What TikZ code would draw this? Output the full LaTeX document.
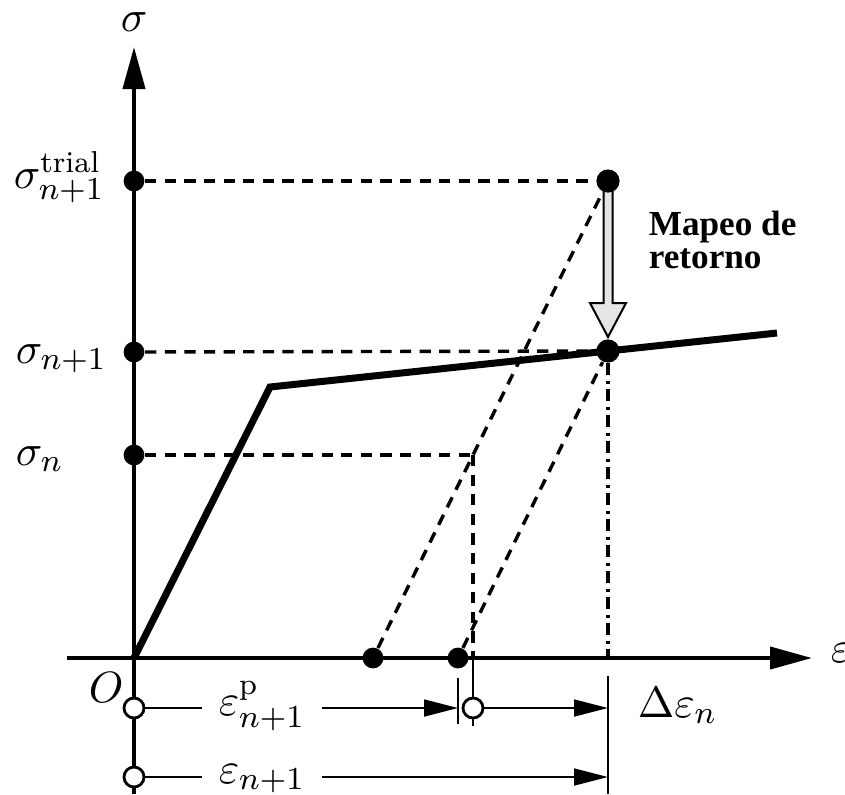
\documentclass[tikz,border=0pt]{standalone}
\usepackage{amsmath}
\usepackage{amssymb}
\usepackage{fontspec}
\newfontfamily\timesfont{Liberation Serif}
\usetikzlibrary{calc, positioning}
\usetikzlibrary{arrows.meta}

\begin{document}
\begin{tikzpicture}[x=0.25pt, y=-0.25pt,
  font=\fontsize{10.8}{12}\selectfont,
  dot/.style={circle, fill=black, inner sep=0pt, minimum size=5.2pt},
  bigdot/.style={dot, minimum size=5.8pt},
  opendot/.style={circle, draw=black, fill=white, line width=0.7pt, inner sep=0pt, minimum size=5pt},
  axisline/.style={line width=1pt, -{Triangle[length=10.5pt, width=5.5pt]}},
  guide/.style={line width=0.85pt, dash pattern=on 2.8pt off 2.1pt},
  dashdot/.style={line width=0.85pt, dash pattern=on 3pt off 1.4pt on 0.7pt off 1.4pt},
  dimarrow/.style={line width=0.6pt, -{Triangle[length=8.5pt, width=4.2pt]}}]
\useasboundingbox (0,0) rectangle (845,794);

% Key points of the stress-strain curve
\coordinate (O) at (134,658);
\coordinate (Y) at (270,387);
\coordinate (H) at (777,333);

% Axes
\draw[axisline] (134,794) -- (134,47);
\draw[axisline] (67,658) -- (812,658);
\node[anchor=base west, inner sep=0pt] (siglab) at (120,31) {$\sigma$};
\node[anchor=base west, inner sep=0pt] (epslab) at (830,662) {$\varepsilon$};
\node[anchor=base west, inner sep=0pt] (olab) at (88,702) {$O$};

% Hollow arrow of the return mapping
\draw[line width=0.5pt, fill=gray!20]
  (603.5,190) -- (603.5,303) -- (590,303) -- (608,337)
  -- (626,303) -- (612.5,303) -- (612.5,190) -- cycle;

% Elastic branch and hardening branch
\draw[line width=1.75pt, line join=miter] (O) -- (Y) -- (H);

% Points on the curve and on the axes
\node[bigdot] (T) at (608,181) {};
\node[bigdot] (S) at (608,351) {};
\coordinate (N) at (473,455);
\node[dot] (sT) at (134,181) {};
\node[dot] (sS) at (134,352) {};
\node[dot] (sN) at (134,455) {};
\node[dot] (p1) at (373,658) {};
\node[dot] (p2) at (458,658) {};

% Dashed guides
\draw[guide] (sT) -- (T);
\draw[guide] (sS) -- (S);
\draw[guide] (sN) -- (N);
\draw[guide] (p1) -- (T);
\draw[guide] (p2) -- (S);
\draw[guide] (N) -- (N |- O);
\draw[dashdot] (S) -- (S |- O);

% Stress labels
\node[anchor=base west, inner sep=0pt] (lT) at (13,188) {$\sigma^{\mathrm{trial}}_{n+1}$};
\node[anchor=base west, inner sep=0pt] (lS) at (15,363) {$\sigma_{n+1}$};
\node[anchor=base west, inner sep=0pt] (lN) at (15,465) {$\sigma_n$};

% Return mapping text
\node[anchor=base west, inner sep=0pt, font=\timesfont\bfseries\fontsize{8.8}{10}\selectfont] (mapeo) at (648,235) {Mapeo de};
\node[anchor=base west, inner sep=0pt, font=\timesfont\bfseries\fontsize{8.8}{10}\selectfont] (retorno) at (648,268) {retorno};

% Strain increments below the axis
\coordinate (b1top) at (458,678);
\coordinate (b1bot) at (458,724);
\coordinate (vbot) at (473,726);
\coordinate (dtop) at (608,676);
\coordinate (dbot) at (608,794);
\draw[line width=0.6pt] (b1top) -- (b1bot);
\draw[line width=0.6pt] (N |- O) -- (vbot);
\draw[line width=0.6pt] (dtop) -- (dbot);

\node[opendot] (o1) at (134,708) {};
\node[opendot] (o2) at (134,777) {};
\node[opendot] (o3) at (473,708) {};
\node[anchor=base west, inner sep=4pt] (epl) at (202,715) {$\varepsilon^{\mathrm{p}}_{n+1}$};
\node[anchor=base west, inner sep=4pt] (etot) at (202,783) {$\varepsilon_{n+1}$};
\node[anchor=base west, inner sep=0pt] (deps) at (637,717) {$\Delta\varepsilon_n$};

\draw[line width=0.6pt] (o1) -- (o1 -| epl.west);
\draw[dimarrow] (o1 -| epl.east) -- (o1 -| b1top);
\draw[dimarrow] (o3) -- (o3 -| dtop);
\draw[line width=0.6pt] (o2) -- (o2 -| etot.west);
\draw[dimarrow] (o2 -| epl.east) -- (o2 -| dtop);
\end{tikzpicture}
\end{document}
